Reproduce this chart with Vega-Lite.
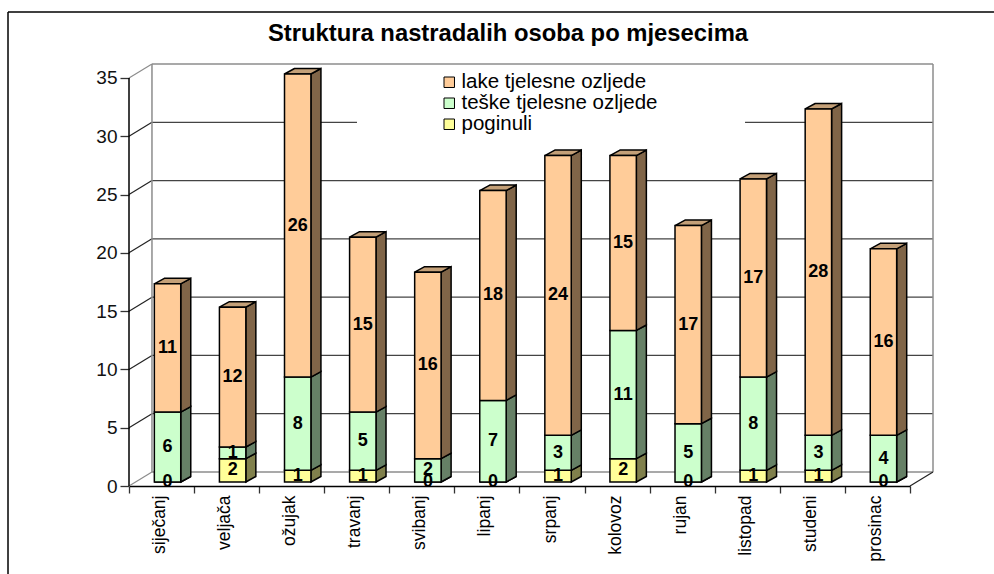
{"$schema":"https://vega.github.io/schema/vega-lite/v6.json","width":804,"height":422,"autosize":{"type":"none"},"padding":{"left":129,"top":64,"right":61,"bottom":88},"background":"white",
"title":{"text":"Struktura nastradalih osoba po mjesecima","font":"Liberation Sans","fontSize":23.8,"fontWeight":"bold","color":"black","anchor":"middle","dx":-23,"offset":-35},
"config":{"view":{"stroke":null},"font":"Liberation Sans"},
"datasets":{"ticks":[{"v":0},{"v":5},{"v":10},{"v":15},{"v":20},{"v":25},{"v":30},{"v":35}],
"rows":[
{"month":"siječanj","kind":"poginuli","rank":0,"count":0},{"month":"siječanj","kind":"teške tjelesne ozljede","rank":1,"count":6},{"month":"siječanj","kind":"lake tjelesne ozljede","rank":2,"count":11},
{"month":"veljača","kind":"poginuli","rank":0,"count":2},{"month":"veljača","kind":"teške tjelesne ozljede","rank":1,"count":1},{"month":"veljača","kind":"lake tjelesne ozljede","rank":2,"count":12},
{"month":"ožujak","kind":"poginuli","rank":0,"count":1},{"month":"ožujak","kind":"teške tjelesne ozljede","rank":1,"count":8},{"month":"ožujak","kind":"lake tjelesne ozljede","rank":2,"count":26},
{"month":"travanj","kind":"poginuli","rank":0,"count":1},{"month":"travanj","kind":"teške tjelesne ozljede","rank":1,"count":5},{"month":"travanj","kind":"lake tjelesne ozljede","rank":2,"count":15},
{"month":"svibanj","kind":"poginuli","rank":0,"count":0},{"month":"svibanj","kind":"teške tjelesne ozljede","rank":1,"count":2},{"month":"svibanj","kind":"lake tjelesne ozljede","rank":2,"count":16},
{"month":"lipanj","kind":"poginuli","rank":0,"count":0},{"month":"lipanj","kind":"teške tjelesne ozljede","rank":1,"count":7},{"month":"lipanj","kind":"lake tjelesne ozljede","rank":2,"count":18},
{"month":"srpanj","kind":"poginuli","rank":0,"count":1},{"month":"srpanj","kind":"teške tjelesne ozljede","rank":1,"count":3},{"month":"srpanj","kind":"lake tjelesne ozljede","rank":2,"count":24},
{"month":"kolovoz","kind":"poginuli","rank":0,"count":2},{"month":"kolovoz","kind":"teške tjelesne ozljede","rank":1,"count":11},{"month":"kolovoz","kind":"lake tjelesne ozljede","rank":2,"count":15},
{"month":"rujan","kind":"poginuli","rank":0,"count":0},{"month":"rujan","kind":"teške tjelesne ozljede","rank":1,"count":5},{"month":"rujan","kind":"lake tjelesne ozljede","rank":2,"count":17},
{"month":"listopad","kind":"poginuli","rank":0,"count":1},{"month":"listopad","kind":"teške tjelesne ozljede","rank":1,"count":8},{"month":"listopad","kind":"lake tjelesne ozljede","rank":2,"count":17},
{"month":"studeni","kind":"poginuli","rank":0,"count":1},{"month":"studeni","kind":"teške tjelesne ozljede","rank":1,"count":3},{"month":"studeni","kind":"lake tjelesne ozljede","rank":2,"count":28},
{"month":"prosinac","kind":"poginuli","rank":0,"count":0},{"month":"prosinac","kind":"teške tjelesne ozljede","rank":1,"count":4},{"month":"prosinac","kind":"lake tjelesne ozljede","rank":2,"count":16}]},
"data":{"name":"rows"},
"transform":[
{"stack":"count","groupby":["month"],"sort":[{"field":"rank","order":"ascending"}],"as":["s0","s1"]},
{"calculate":"indexof(['siječanj','veljača','ožujak','travanj','svibanj','lipanj','srpanj','kolovoz','rujan','listopad','studeni','prosinac'],datum.month)","as":"i"},
{"calculate":"datum.s0+0.343","as":"y0"},{"calculate":"datum.s1+0.343","as":"y1"},{"calculate":"(datum.y0+datum.y1)/2","as":"yc"},
{"calculate":"datum.i+0.795","as":"xr"},{"calculate":"datum.i+0.389","as":"xl"},
{"calculate":"[0,1]","as":"k"},{"flatten":["k"]},
{"calculate":"datum.xr+datum.k*0.154","as":"sx"},{"calculate":"datum.xl+datum.k*0.154","as":"tx"},
{"calculate":"datum.y0+datum.k*0.47","as":"sy0"},{"calculate":"datum.y1+datum.k*0.47","as":"sy1"}
],
"resolve":{"scale":{"x":"independent"},"axis":{"y":"independent","x":"independent"},"legend":{"color":"independent","fill":"independent"}},
"layer":[
{"data":{"name":"ticks"},"transform":[{"calculate":"datum.v+1.2","as":"vb"}],"mark":{"type":"rule","strokeWidth":1.3},
"encoding":{"x":{"datum":0.353,"type":"quantitative","scale":{"domain":[0,12.353],"nice":false,"zero":false},"axis":null},"x2":{"datum":12.353},"y":{"field":"vb","type":"quantitative","scale":{"domain":[0,36.2],"nice":false,"zero":false},"axis":null},
"color":{"condition":{"test":"datum.v==0||datum.v==35","value":"#8c8c8c"},"value":"#444444"}}},
{"data":{"name":"ticks"},"transform":[{"calculate":"datum.v+1.2","as":"vb"}],"mark":{"type":"rule","strokeWidth":1.2},
"encoding":{"x":{"datum":0,"type":"quantitative","scale":{"domain":[0,12.353],"nice":false,"zero":false},"axis":null},"x2":{"datum":0.353},"y":{"field":"v","type":"quantitative","scale":{"domain":[0,36.2],"nice":false,"zero":false},"axis":null},"y2":{"field":"vb"},
"color":{"condition":{"test":"datum.v==0||datum.v==35","value":"#8c8c8c"},"value":"#222222"}}},
{"data":{"values":[{"w":0.353},{"w":12.353}]},"mark":{"type":"rule","strokeWidth":1.5,"color":"#8c8c8c"},
"encoding":{"x":{"field":"w","type":"quantitative","scale":{"domain":[0,12.353],"nice":false,"zero":false},"axis":null},"y":{"datum":1.2,"type":"quantitative","scale":{"domain":[0,36.2],"nice":false,"zero":false},"axis":null},"y2":{"datum":36.2}}},
{"data":{"values":[{"a":1}]},"mark":{"type":"rule","strokeWidth":1.2,"color":"#222222"},
"encoding":{"x":{"datum":12,"type":"quantitative","scale":{"domain":[0,12.353],"nice":false,"zero":false},"axis":null},"x2":{"datum":12.353},"y":{"datum":0,"type":"quantitative","scale":{"domain":[0,36.2],"nice":false,"zero":false},"axis":null},"y2":{"datum":1.2}}},
{"data":{"values":[{"a":1}]},"mark":{"type":"rect","fill":"white"},
"encoding":{"x":{"datum":3.503,"type":"quantitative","scale":{"domain":[0,12.353],"nice":false,"zero":false},"axis":null},"x2":{"datum":9.465},"y":{"datum":30.7,"type":"quantitative","scale":{"domain":[0,36.2],"nice":false,"zero":false},"axis":null},"y2":{"datum":36.0}}},
{"data":{"values":[{"a":1}]},"mark":{"type":"rule","strokeWidth":1.5,"color":"black"},
"encoding":{"x":{"datum":0,"type":"quantitative","scale":{"domain":[0,12.353],"nice":false,"zero":false},"axis":null},"y":{"datum":0,"type":"quantitative","scale":{"domain":[0,36.2],"nice":false,"zero":false},"axis":null},"y2":{"datum":35}}},
{"data":{"values":[{"a":1}]},"mark":{"type":"rule","strokeWidth":1.5,"color":"black"},
"encoding":{"x":{"datum":-1.859,"type":"quantitative","scale":{"domain":[0,12.353],"nice":false,"zero":false},"axis":null},"x2":{"datum":13.29},"y":{"datum":40.66,"type":"quantitative","scale":{"domain":[0,36.2],"nice":false,"zero":false},"axis":null}}},
{"data":{"values":[{"a":1}]},"mark":{"type":"rule","strokeWidth":1.5,"color":"black"},
"encoding":{"x":{"datum":-1.859,"type":"quantitative","scale":{"domain":[0,12.353],"nice":false,"zero":false},"axis":null},"y":{"datum":40.66,"type":"quantitative","scale":{"domain":[0,36.2],"nice":false,"zero":false},"axis":null},"y2":{"datum":-7.55}}},
{"mark":{"type":"area","stroke":"black","strokeWidth":1.5,"orient":"vertical"},
"encoding":{"x":{"field":"sx","type":"quantitative","scale":{"domain":[0,12.353],"nice":false,"zero":false},"axis":null},"y":{"field":"sy0","type":"quantitative","stack":null,"scale":{"domain":[0,36.2],"nice":false,"zero":false},"axis":null},"y2":{"field":"sy1"},"detail":[{"field":"month"},{"field":"kind"}],
"fill":{"field":"kind","type":"nominal","legend":null,"scale":{"domain":["lake tjelesne ozljede","teške tjelesne ozljede","poginuli"],"range":["#806548","#668066","#80804c"]}}}},
{"transform":[{"filter":"datum.rank==2"}],"mark":{"type":"area","stroke":"black","strokeWidth":1.5,"orient":"horizontal","fill":"#c4a078"},
"encoding":{"y":{"field":"sy1","type":"quantitative","stack":null,"scale":{"domain":[0,36.2],"nice":false,"zero":false},"axis":null},"x":{"field":"tx","type":"quantitative","stack":null,"scale":{"domain":[0,12.353],"nice":false,"zero":false},"axis":null},"x2":{"field":"sx"},"detail":{"field":"month"}}},
{"transform":[{"filter":"datum.k==0"}],"mark":{"type":"bar","width":26.4,"xOffset":6,"stroke":"black","strokeWidth":1.5},
"encoding":{"x":{"field":"month","type":"nominal","sort":null,"scale":{"domain":["siječanj","veljača","ožujak","travanj","svibanj","lipanj","srpanj","kolovoz","rujan","listopad","studeni","prosinac"],"range":[0,781],"paddingInner":0,"paddingOuter":0},
"axis":{"title":null,"labelAngle":-90,"labelFont":"Liberation Sans","labelFontSize":17.5,"labelColor":"black","labelPadding":2,"labelOffset":-2,"tickBand":"extent","tickSize":7,"tickColor":"#333333","tickWidth":1.3,"domainColor":"black","domainWidth":1.5,"grid":false,"labelOverlap":false,"labelAlign":"right","labelBaseline":"middle"}},
"y":{"field":"y0","type":"quantitative","stack":null,"scale":{"domain":[0,36.2],"nice":false,"zero":false},
"axis":{"title":null,"values":[0,5,10,15,20,25,30,35],"domain":false,"grid":false,"labelFont":"Liberation Sans","labelFontSize":19,"labelColor":"#111111","labelPadding":3,"tickSize":9,"tickColor":"#333333","tickWidth":1.3}},"y2":{"field":"y1"},
"color":{"field":"kind","type":"nominal","sort":null,"scale":{"domain":["lake tjelesne ozljede","teške tjelesne ozljede","poginuli"],"range":["#ffcc99","#ccffcc","#ffff99"]},
"legend":{"title":null,"orient":"none","legendX":310,"legendY":8,"symbolType":"square","symbolSize":110,"symbolStrokeColor":"black","symbolStrokeWidth":1,"symbolOpacity":1,"labelFont":"Liberation Sans","labelFontSize":20.5,"labelColor":"black","rowPadding":-3,"labelLimit":300,"labelOffset":2}}}},
{"transform":[{"filter":"datum.k==0"}],"mark":{"type":"text","xOffset":6,"font":"Liberation Sans","fontSize":18,"fontWeight":"bold","color":"black","align":"center","baseline":"middle"},
"encoding":{"x":{"field":"month","type":"nominal","sort":null,"scale":{"domain":["siječanj","veljača","ožujak","travanj","svibanj","lipanj","srpanj","kolovoz","rujan","listopad","studeni","prosinac"],"range":[0,781],"paddingInner":0,"paddingOuter":0},"axis":null},
"y":{"field":"yc","type":"quantitative","stack":null,"scale":{"domain":[0,36.2],"nice":false,"zero":false},"axis":null},"text":{"field":"count","type":"quantitative"}}}
]}
